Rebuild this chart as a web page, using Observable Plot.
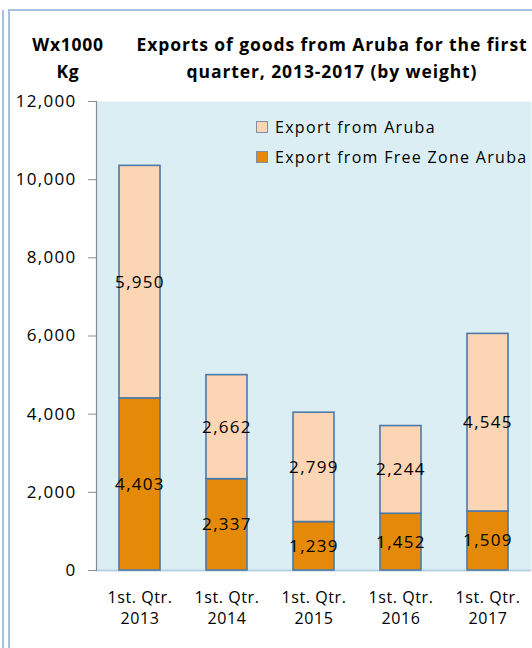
<!DOCTYPE html>
<html>
<head>
<meta charset="utf-8">
<script src="https://cdn.jsdelivr.net/npm/d3@7"></script>
<script src="https://cdn.jsdelivr.net/npm/@observablehq/plot@0.6"></script>
<style>
  html, body { margin: 0; padding: 0; background: #fff; }
  #wrap { position: relative; width: 532px; height: 648px; overflow: hidden; font-family: "Open Sans", sans-serif; }
  .outer { position: absolute; left: 2px; top: 10px; width: 0; height: 640px; border-left: 2px solid #a7c0dd; }
  .inner { position: absolute; left: 8px; top: 9px; width: 530px; height: 640px; border-left: 2px solid #a7c0dd; border-top: 2px solid #a7c0dd; }
  .ttl { position: absolute; font-weight: bold; color: #000; text-align: center; line-height: 27px; font-size: 17.5px; letter-spacing: 0.9px; white-space: nowrap; }
  #unit { left: 18px; top: 31px; width: 100px; letter-spacing: 0.7px; }
  #title { left: 112px; top: 31px; width: 440px; }
  #legend { position: absolute; left: 256px; top: 112px; font-size: 16px; letter-spacing: 1.3px; color: #000; white-space: nowrap; }
  .li { display: flex; align-items: center; height: 30px; }
  .sw { width: 10px; height: 10px; border: 1px solid #7f8fa6; margin-right: 7px; }
  #chart { position: absolute; left: 0; top: 0; }
  #chart g[aria-label="y-axis tick label"] text { letter-spacing: 1.3px; }
  #chart g[aria-label="x-axis tick label"] text { letter-spacing: 0.6px; }
  #chart g[aria-label="text"] text { letter-spacing: 1.3px; }
</style>
</head>
<body>
<div id="wrap">
  <div id="chart"></div>
  <div class="outer"></div>
  <div class="inner"></div>
  <div class="ttl" id="unit">Wx1000<br>Kg</div>
  <div class="ttl" id="title">Exports of goods from Aruba for the first<br>quarter, 2013-2017 (by weight)</div>
  <div id="legend"></div>
</div>
<script>
const categories = ["1st. Qtr.\n2013", "1st. Qtr.\n2014", "1st. Qtr.\n2015", "1st. Qtr.\n2016", "1st. Qtr.\n2017"];
const seriesNames = ["Export from Free Zone Aruba", "Export from Aruba"];
const freeZone = [4403, 2337, 1239, 1452, 1509];
const aruba = [5950, 2662, 2799, 2244, 4545];
const yTicks = [0, 2000, 4000, 6000, 8000, 10000, 12000];
const colors = ["#e48a08", "#fcd5b5"];

const data = [];
categories.forEach((c, i) => {
  data.push({cat: c, series: seriesNames[0], value: freeZone[i]});
  data.push({cat: c, series: seriesNames[1], value: aruba[i]});
});

const fmt = d3.format(",");
const chart = Plot.plot({
  width: 532,
  height: 648,
  marginLeft: 96,
  marginRight: 1,
  marginTop: 101,
  marginBottom: 78,
  style: {fontFamily: "'Open Sans', sans-serif", fontSize: "16px", color: "#000", background: "transparent"},
  x: {domain: categories, paddingInner: 0.53, paddingOuter: 0.265, label: null},
  y: {domain: [0, 12000], label: null},
  color: {domain: seriesNames, range: colors},
  marks: [
    Plot.frame({fill: "#dbeef4", stroke: null}),
    Plot.ruleY([0], {stroke: "#b9d1e6", strokeWidth: 2}),
    Plot.frame({anchor: "left", stroke: "#8c8c8c", strokeWidth: 1.2}),
    Plot.axisY({ticks: yTicks, tickFormat: fmt, tickSize: 8, tickPadding: 12, stroke: "#8c8c8c", fontSize: 17}),
    Plot.axisX({tickSize: 0, tickPadding: 17, fontSize: 16, lineHeight: 1.35}),
    Plot.barY(data, Plot.stackY({x: "cat", y: "value", z: "series", order: seriesNames, fill: "series", stroke: "#4d79a8", strokeWidth: 1.6})),
    Plot.text(data, Plot.stackY({x: "cat", y: "value", z: "series", order: seriesNames, text: d => fmt(d.value), fontSize: 17, fill: "#000"}))
  ]
});
document.getElementById("chart").appendChild(chart);

const legend = document.getElementById("legend");
[1, 0].forEach(i => {
  const row = document.createElement("div");
  row.className = "li";
  const sw = document.createElement("div");
  sw.className = "sw";
  sw.style.background = colors[i];
  const t = document.createElement("span");
  t.textContent = seriesNames[i];
  row.appendChild(sw); row.appendChild(t);
  legend.appendChild(row);
});
</script>
</body>
</html>
